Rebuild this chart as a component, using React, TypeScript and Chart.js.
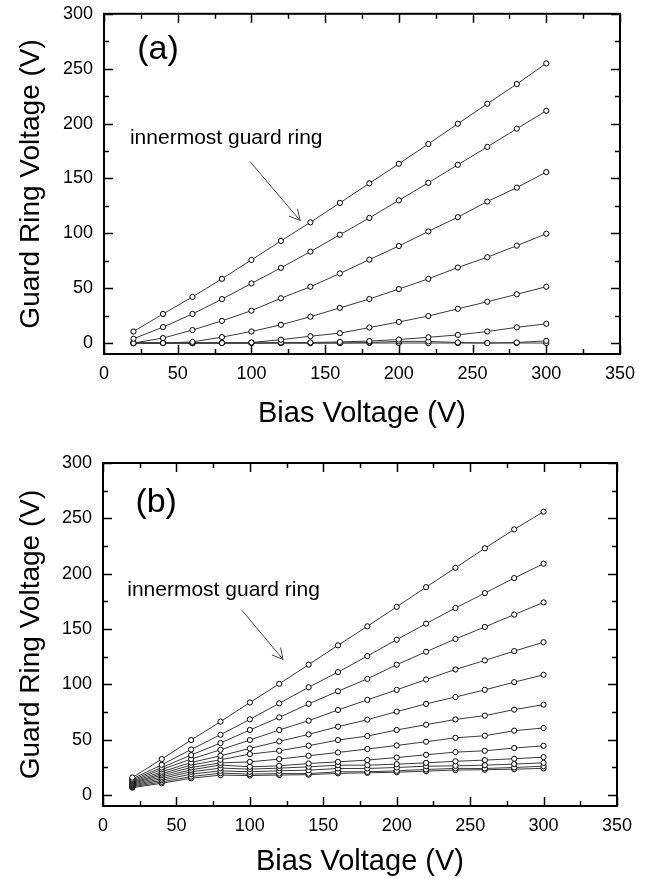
import React, { useEffect, useRef } from 'react';
import { Chart, registerables } from 'chart.js';

Chart.register(...registerables);

// ---- data ----
const biasVoltage = [20, 40, 60, 80, 100, 120, 140, 160, 180, 200, 220, 240, 260, 280, 300];

const xTickValues = [0, 50, 100, 150, 200, 250, 300, 350];
const xMinorTickValues = [25, 75, 125, 175, 225, 275, 325];
const yTickValues = [0, 50, 100, 150, 200, 250, 300];
const yMinorTickValues = [25, 75, 125, 175, 225, 275];

const xTitle = 'Bias Voltage (V)';
const yTitle = 'Guard Ring Voltage (V)';
const arrowText = 'innermost guard ring';

// panel (a)
const ringA1 = [10.5, 26.5, 42, 58.5, 75.7, 93, 110, 127.7, 145.5, 163.3, 181.4, 199.8, 218, 236, 254.8];
const ringA2 = [3.9, 14.5, 26.5, 40, 54.3, 68.5, 83.3, 98.7, 114, 130, 146, 162.4, 178.7, 195.3, 211.6];
const ringA3 = [0, 4.5, 11.8, 20.2, 29.5, 40.8, 51.3, 63.4, 76, 88.4, 101.7, 114.7, 128.9, 141.6, 155.8];
const ringA4 = [0, 0, 1, 5.4, 10.5, 16.6, 24, 32, 40.1, 49.2, 58.5, 68.8, 78.2, 88.7, 99.6];
const ringA5 = [0, 0, 0, 0, 0.5, 3, 6.2, 9, 14.1, 19.2, 24.6, 31.2, 37.6, 44.4, 51.3];
const ringA6 = [0, 0, 0, 0, 0, 0.5, 0.5, 1, 1.8, 3.2, 5.2, 7.4, 10.5, 14.3, 17.5];
const ringA7 = [0, 0, 0, 0, 0, 0, 0, 0, 0.5, 1.5, 1.5, 0.5, 0, 0.5, 2];
const ringA8 = [0, 0, 0, 0, 0, 0, 0, 0, 0, 0, 0, 0, 0, 0, 0];

// panel (b)
const ringB1 = [15.7, 32.4, 49.6, 66.2, 83.5, 100.4, 117.7, 135.2, 152.4, 170, 187.8, 205.3, 222.9, 240, 256];
const ringB2 = [14.5, 27.2, 41.1, 54.4, 68.3, 82.8, 97.3, 111, 125.5, 140.3, 154.8, 169, 182.4, 196, 209];
const ringB3 = [13.5, 24.8, 36, 46.9, 58.7, 70.1, 82.3, 93.7, 104.9, 117.7, 129.4, 141, 151.8, 163, 174];
const ringB4 = [12.5, 23, 32.4, 40.8, 49.6, 58.7, 67.1, 76.8, 85.9, 95, 104.3, 113.4, 121.6, 130, 138];
const ringB5 = [11.8, 20.9, 29.3, 35.4, 42, 48.4, 54.7, 61.7, 68, 75.3, 82.3, 88.5, 95, 101.9, 108.6];
const ringB6 = [11, 19.3, 27, 31.8, 36.9, 39.9, 44.5, 49.6, 53.2, 58.7, 63.5, 68.2, 71.7, 77.1, 81.6];
const ringB7 = [10.3, 17.9, 24.8, 29, 29.9, 32.4, 35.4, 38.4, 41.5, 44.7, 48.1, 51.6, 53.5, 58.1, 60.5];
const ringB8 = [9.5, 16.3, 22.7, 27, 25.4, 26.3, 28.4, 29.9, 31.5, 33.8, 36.3, 38.7, 39.9, 42.4, 44.4];
const ringB9 = [8.7, 14.8, 20.9, 24.3, 23.3, 24.2, 25.4, 26.9, 26.9, 27.8, 29, 30.4, 31.5, 32.7, 34.2];
const ringB10 = [8, 13.3, 18.8, 21.8, 20.9, 21.8, 22.4, 23.9, 23.9, 24.8, 26, 26.3, 26.9, 27.9, 29];
const ringB11 = [7.3, 11.8, 16.6, 19.7, 18.8, 19.3, 19.3, 20.9, 20.9, 21.8, 23, 24, 23.9, 24.8, 26];
const ringB12 = [6.6, 10.5, 15.1, 17.9, 17.5, 18, 18.3, 19.5, 20, 20.5, 21.5, 22.5, 22.8, 23.3, 24];

const panelASeries = [ringA1, ringA2, ringA3, ringA4, ringA5, ringA6, ringA7, ringA8];
const panelBSeries = [ringB1, ringB2, ringB3, ringB4, ringB5, ringB6, ringB7, ringB8, ringB9, ringB10, ringB11, ringB12];

// ---- styling / layout ----
const FONT = '"Liberation Sans", Arial, Helvetica, sans-serif';

type PanelCfg = {
  tag: string;
  series: number[][];
  top: number;
  height: number;
  padding: { top: number; right: number; bottom: number; left: number };
  yAxisWidth: number;
  xAxisHeight: number;
  xTitlePadBottom: number;
  tagPos: [number, number];
  textPos: [number, number];
  arrowFrom: [number, number];
  arrowTo: [number, number];
};

const panels: PanelCfg[] = [
  {
    tag: '(a)',
    series: panelASeries,
    top: -8,
    height: 448,
    padding: { top: 4, right: 25, bottom: 0, left: 0 },
    yAxisWidth: 104,
    xAxisHeight: 86,
    xTitlePadBottom: 9,
    tagPos: [36.6, 267.5],
    textPos: [17.6, 181.4],
    arrowFrom: [99, 165.4],
    arrowTo: [133, 111.7],
  },
  {
    tag: '(b)',
    series: panelBSeries,
    top: 440,
    height: 439,
    padding: { top: 23, right: 28, bottom: 0, left: 0 },
    yAxisWidth: 103,
    xAxisHeight: 73,
    xTitlePadBottom: 0,
    tagPos: [36.2, 264],
    textPos: [16.5, 180],
    arrowFrom: [94.5, 167],
    arrowTo: [122.6, 122.5],
  },
];

const framePlugin = {
  id: 'frameTicks',
  afterDraw(chart: any) {
    const { ctx, chartArea } = chart;
    const { left, right, top, bottom } = chartArea;
    const xs = chart.scales.x;
    const ys = chart.scales.y;
    ctx.save();
    ctx.strokeStyle = '#000';
    ctx.lineWidth = 1.5;
    const line = (x1: number, y1: number, x2: number, y2: number) => {
      ctx.beginPath();
      ctx.moveTo(x1, y1);
      ctx.lineTo(x2, y2);
      ctx.stroke();
    };
    const drawX = (v: number, len: number) => {
      const px = Math.round(xs.getPixelForValue(v)) + 0.5;
      line(px, bottom, px, bottom - len);
      line(px, top, px, top + len);
    };
    const drawY = (v: number, len: number) => {
      const py = Math.round(ys.getPixelForValue(v)) + 0.5;
      line(left, py, left + len, py);
      line(right, py, right - len, py);
    };
    xTickValues.forEach((v) => drawX(v, 9));
    xMinorTickValues.forEach((v) => drawX(v, 5));
    yTickValues.forEach((v) => drawY(v, 9));
    yMinorTickValues.forEach((v) => drawY(v, 5));
    ctx.lineWidth = 2;
    ctx.strokeRect(left, top, right - left, bottom - top);
    ctx.restore();
  },
};

const makeAnnotationPlugin = (p: PanelCfg) => ({
  id: 'annot',
  afterDraw(chart: any) {
    const { ctx } = chart;
    const xs = chart.scales.x;
    const ys = chart.scales.y;
    ctx.save();
    ctx.fillStyle = '#000';
    ctx.font = `34px ${FONT}`;
    ctx.textAlign = 'center';
    ctx.textBaseline = 'middle';
    ctx.fillText(p.tag, xs.getPixelForValue(p.tagPos[0]), ys.getPixelForValue(p.tagPos[1]));

    ctx.font = `21px ${FONT}`;
    ctx.textAlign = 'left';
    ctx.textBaseline = 'alphabetic';
    ctx.fillText(arrowText, xs.getPixelForValue(p.textPos[0]), ys.getPixelForValue(p.textPos[1]));

    const x1 = xs.getPixelForValue(p.arrowFrom[0]);
    const y1 = ys.getPixelForValue(p.arrowFrom[1]);
    const x2 = xs.getPixelForValue(p.arrowTo[0]);
    const y2 = ys.getPixelForValue(p.arrowTo[1]);
    ctx.strokeStyle = '#444';
    ctx.lineWidth = 1;
    ctx.beginPath();
    ctx.moveTo(x1, y1);
    ctx.lineTo(x2, y2);
    const ang = Math.atan2(y2 - y1, x2 - x1);
    const hl = 12;
    const spread = (28 * Math.PI) / 180;
    ctx.moveTo(x2, y2);
    ctx.lineTo(x2 - hl * Math.cos(ang - spread), y2 - hl * Math.sin(ang - spread));
    ctx.moveTo(x2, y2);
    ctx.lineTo(x2 - hl * Math.cos(ang + spread), y2 - hl * Math.sin(ang + spread));
    ctx.stroke();
    ctx.restore();
  },
});

function Panel({ cfg }: { cfg: PanelCfg }) {
  const ref = useRef<HTMLCanvasElement | null>(null);
  useEffect(() => {
    if (!ref.current) return;
    const datasets = cfg.series.map((s, i) => ({
      label: `ring ${i + 1}`,
      data: biasVoltage.map((x, j) => ({ x, y: s[j] })),
      borderColor: '#3a3a3a',
      borderWidth: 1,
      pointRadius: 2.6,
      pointBorderWidth: 1,
      pointBorderColor: '#000',
      pointBackgroundColor: '#fff',
      showLine: true,
      tension: 0,
    }));
    const chart = new Chart(ref.current, {
      type: 'scatter',
      data: { datasets },
      options: {
        animation: false,
        responsive: false,
        maintainAspectRatio: false,
        layout: { padding: cfg.padding },
        plugins: { legend: { display: false }, tooltip: { enabled: false } },
        scales: {
          x: {
            type: 'linear',
            min: 0,
            max: 350,
            afterBuildTicks: (scale: any) => {
              scale.ticks = xTickValues.map((v) => ({ value: v }));
            },
            afterFit: (scale: any) => {
              scale.height = cfg.xAxisHeight;
            },
            grid: { display: false, drawTicks: false },
            border: { display: false },
            ticks: {
              color: '#000',
              font: { family: FONT, size: 18 },
              padding: 9,
              maxRotation: 0,
              autoSkip: false,
            },
            title: {
              display: true,
              text: xTitle,
              color: '#000',
              font: { family: FONT, size: 29 },
              padding: { top: 0, bottom: cfg.xTitlePadBottom },
            },
          },
          y: {
            type: 'linear',
            min: -10,
            max: 300,
            afterBuildTicks: (scale: any) => {
              scale.ticks = yTickValues.map((v) => ({ value: v }));
            },
            afterFit: (scale: any) => {
              scale.width = cfg.yAxisWidth;
            },
            grid: { display: false, drawTicks: false },
            border: { display: false },
            ticks: {
              color: '#000',
              font: { family: FONT, size: 18 },
              padding: 11,
              autoSkip: false,
            },
            title: {
              display: true,
              text: yTitle,
              color: '#000',
              font: { family: FONT, size: 28 },
              padding: { top: 14, bottom: 0 },
            },
          },
        },
      },
      plugins: [framePlugin, makeAnnotationPlugin(cfg)],
    } as any);
    return () => chart.destroy();
  }, [cfg]);
  return (
    <canvas
      ref={ref}
      width={645}
      height={cfg.height}
      style={{ position: 'absolute', left: 0, top: cfg.top, width: 645, height: cfg.height }}
    />
  );
}

export default function App() {
  return (
    <div style={{ position: 'absolute', left: 0, top: 0, width: 645, height: 879, background: '#fff', overflow: 'hidden' }}>
      {panels.map((p) => (
        <Panel key={p.tag} cfg={p} />
      ))}
    </div>
  );
}
